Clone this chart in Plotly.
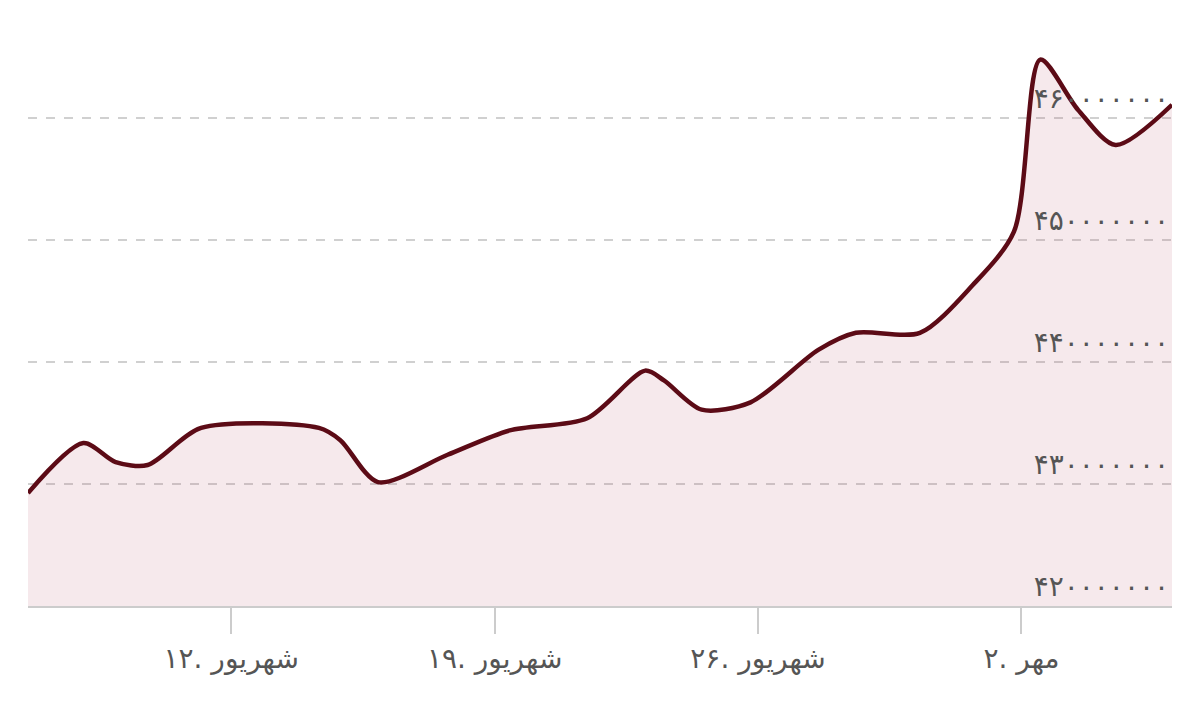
import plotly.graph_objects as go

# trading days (day of Shahrivar, continuing past 31 into Mehr) and price
days = [6.6, 8.07, 8.93, 9.78, 11.2, 14.33, 14.9, 15.9, 17.75, 19.4, 21.46, 23.0,
        23.5, 24.5, 25.8, 27.6, 28.6, 30.3, 31.7, 32.8, 33.5, 34.5, 35.5, 37.0]
price_m = [429.26, 433.36, 431.8, 431.56, 434.6, 434.6, 433.6, 430.16, 432.4, 434.4,
           435.4, 439.3, 438.5, 436.1, 436.7, 441.0, 442.4, 442.4, 446.3, 450.7,
           464.8, 460.7, 457.8, 461.1]
prices = [p * 1e6 for p in price_m]

x_ticks = [12, 19, 26, 33]
x_labels = ["شهریور .۱۲", "شهریور .۱۹", "شهریور .۲۶", "مهر .۲"]
y_ticks = [420e6, 430e6, 440e6, 450e6, 460e6]
y_labels = ["۴۲۰۰۰۰۰۰۰", "۴۳۰۰۰۰۰۰۰", "۴۴۰۰۰۰۰۰۰", "۴۵۰۰۰۰۰۰۰", "۴۶۰۰۰۰۰۰۰"]

fig = go.Figure()
fig.add_trace(go.Scatter(
    x=days, y=prices, mode="lines",
    line=dict(color="#5c0b16", width=4.5, shape="spline", smoothing=0.8),
    fill="tozeroy", fillcolor="rgba(190,100,120,0.14)",
))

fig.update_layout(
    width=1200, height=715,
    margin=dict(l=20, r=36, t=37, b=117),
    paper_bgcolor="white", plot_bgcolor="white",
    showlegend=False,
    font=dict(family="DejaVu Sans", color="#555555"),
    xaxis=dict(
        range=[6.6, 37.0], tickvals=x_ticks, ticktext=x_labels,
        ticks="outside", ticklen=26, tickcolor="#cccccc", tickwidth=2,
        showgrid=False, zeroline=False, automargin=False,
        showline=True, linecolor="#cccccc", linewidth=2,
        tickfont=dict(size=28, color="#555555"),
    ),
    yaxis=dict(
        range=[420e6, 466e6], tickvals=y_ticks, ticktext=y_labels,
        side="right", ticklabelposition="inside top", automargin=False,
        showgrid=True, gridcolor="#d0d0d0", griddash="dash", gridwidth=1.5,
        zeroline=False, tickfont=dict(size=28, color="#555555"),
    ),
)

fig.write_html("out.html")
